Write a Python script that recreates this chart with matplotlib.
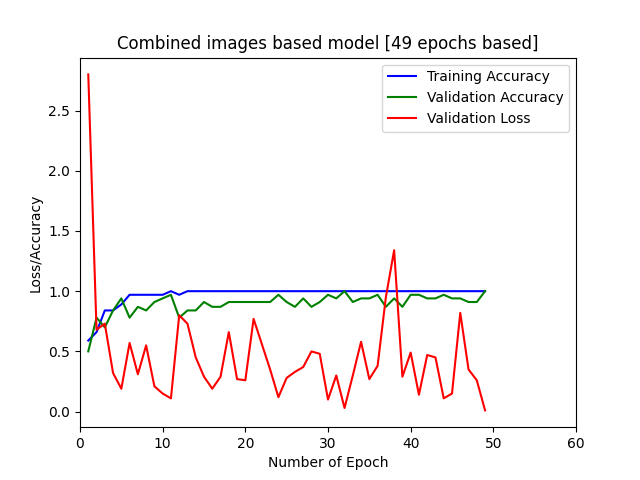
import numpy as np
import matplotlib
matplotlib.use('Agg')
import matplotlib.pyplot as plt

epochs = np.arange(1, 50)

train_acc = [0.59, 0.66, 0.84, 0.84, 0.89, 0.97, 0.97, 0.97, 0.97, 0.97,
             1.00, 0.97] + [1.00] * 37

val_acc = [0.50, 0.78, 0.70, 0.84, 0.94, 0.78, 0.87, 0.84, 0.91, 0.94,
           0.97, 0.78, 0.84, 0.84, 0.91, 0.87, 0.87, 0.91, 0.91, 0.91,
           0.91, 0.91, 0.91, 0.97, 0.91, 0.87, 0.94, 0.87, 0.91, 0.97,
           0.94, 1.00, 0.91, 0.94, 0.94, 0.97, 0.87, 0.94, 0.87, 0.97,
           0.97, 0.94, 0.94, 0.97, 0.94, 0.94, 0.91, 0.91, 1.00]

val_loss = [2.80, 0.68, 0.73, 0.32, 0.19, 0.57, 0.31, 0.55, 0.21, 0.15,
            0.11, 0.80, 0.73, 0.45, 0.29, 0.19, 0.29, 0.66, 0.27, 0.26,
            0.77, 0.56, 0.35, 0.12, 0.28, 0.33, 0.37, 0.50, 0.48, 0.10,
            0.30, 0.03, 0.30, 0.58, 0.27, 0.38, 0.95, 1.34, 0.29, 0.49,
            0.14, 0.47, 0.45, 0.11, 0.15, 0.82, 0.35, 0.26, 0.01]

fig, ax = plt.subplots(figsize=(6.4, 4.8), dpi=100)
ax.plot(epochs, train_acc, color='blue', label='Training Accuracy')
ax.plot(epochs, val_acc, color='green', label='Validation Accuracy')
ax.plot(epochs, val_loss, color='red', label='Validation Loss')
ax.set_xlim(0, 60)
ax.set_title('Combined images based model [49 epochs based]')
ax.set_xlabel('Number of Epoch')
ax.set_ylabel('Loss/Accuracy')
ax.legend(loc='upper right')
fig.savefig('out.png')
